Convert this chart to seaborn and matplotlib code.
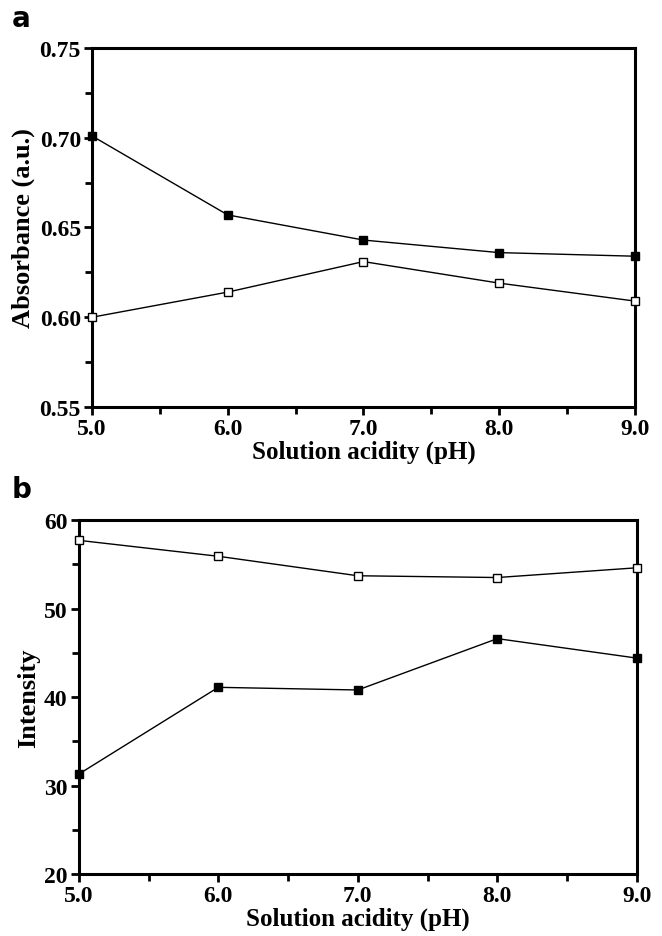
import matplotlib
matplotlib.use("Agg")
import matplotlib.pyplot as plt
from matplotlib.ticker import MultipleLocator, FormatStrFormatter
import seaborn as sns
import pandas as pd

ph = [5.0, 6.0, 7.0, 8.0, 9.0]
abs_filled = [0.701, 0.657, 0.643, 0.636, 0.634]
abs_open = [0.600, 0.614, 0.631, 0.619, 0.609]
int_filled = [31.3, 41.1, 40.8, 46.6, 44.4]
int_open = [57.7, 55.9, 53.7, 53.5, 54.6]

xticks = [5.0, 6.0, 7.0, 8.0, 9.0]

sns.set_style("ticks")
plt.rcParams['font.family'] = ['Liberation Serif', 'DejaVu Serif']
plt.rcParams['text.color'] = 'black'
plt.rcParams['axes.labelcolor'] = 'black'
plt.rcParams['xtick.color'] = 'black'
plt.rcParams['ytick.color'] = 'black'

fig = plt.figure(figsize=(6.62, 9.37), dpi=100)
ax_a = fig.add_axes([0.139, 0.5646, 0.820, 0.3831])
ax_b = fig.add_axes([0.119, 0.066, 0.843, 0.378])

def draw(ax, filled, opn, ylim, major, minor, fmt, ylabel):
    df = pd.DataFrame({"pH": ph, "filled": filled, "open": opn})
    sns.lineplot(data=df, x="pH", y="filled", ax=ax, color="black", lw=1.0,
                 marker="s", markersize=6, markerfacecolor="black",
                 markeredgecolor="black", markeredgewidth=1.0, clip_on=False, zorder=3)
    sns.lineplot(data=df, x="pH", y="open", ax=ax, color="black", lw=1.0,
                 marker="s", markersize=6, markerfacecolor="white",
                 markeredgecolor="black", markeredgewidth=1.0, clip_on=False, zorder=3)
    ax.set_xlim(5.0, 9.0)
    ax.set_ylim(*ylim)
    ax.set_xticks(xticks)
    ax.xaxis.set_minor_locator(MultipleLocator(0.5))
    ax.yaxis.set_major_locator(MultipleLocator(major))
    ax.yaxis.set_minor_locator(MultipleLocator(minor))
    ax.xaxis.set_major_formatter(FormatStrFormatter("%.1f"))
    ax.yaxis.set_major_formatter(FormatStrFormatter(fmt))
    for s in ax.spines.values():
        s.set_linewidth(2.2)
        s.set_color("black")
    ax.tick_params(which="major", direction="out", length=6, width=2,
                   labelsize=17, top=False, right=False, pad=2, colors="black")
    ax.tick_params(which="minor", direction="out", length=5, width=2,
                   top=False, right=False, colors="black")
    for lab in ax.get_xticklabels() + ax.get_yticklabels():
        lab.set_fontweight("bold")
    ax.set_xlabel("Solution acidity (pH)", fontsize=18, fontweight="bold",
                  labelpad=0, color="black")
    ax.set_ylabel(ylabel, fontsize=19, fontweight="bold", labelpad=3, color="black")

draw(ax_a, abs_filled, abs_open, (0.55, 0.75), 0.05, 0.025, "%.2f", "Absorbance (a.u.)")
draw(ax_b, int_filled, int_open, (20, 60), 10, 5, "%d", "Intensity")

fig.text(0.018, 0.965, "a", fontsize=20, fontweight="bold", family=["DejaVu Sans"],
         va="bottom", color="black")
fig.text(0.018, 0.462, "b", fontsize=20, fontweight="bold", family=["DejaVu Sans"],
         va="bottom", color="black")

fig.savefig("out.png", dpi=100)
